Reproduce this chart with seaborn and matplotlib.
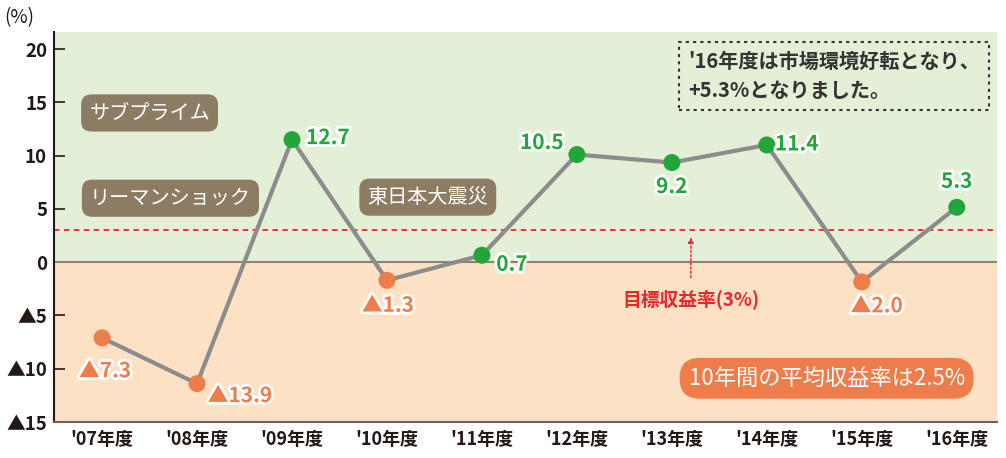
"""Pension fund annual return chart ('07-'16) with target and 10-year average."""

import matplotlib.pyplot as plt
import matplotlib.patheffects as pe
import pandas as pd
import seaborn as sns

years = ["'07年度", "'08年度", "'09年度", "'10年度", "'11年度",
         "'12年度", "'13年度", "'14年度", "'15年度", "'16年度"]
# plotted positions
returns = [-7.1, -11.4, 11.5, -1.7, 0.65, 10.1, 9.35, 11.0, -1.85, 5.15]
value_labels = ["▲7.3", "▲13.9", "12.7", "▲1.3", "0.7",
                "10.5", "9.2", "11.4", "▲2.0", "5.3"]
yticks = [-15, -10, -5, 0, 5, 10, 15, 20]
ytick_labels = ["▲15", "▲10", "▲5", "0", "5", "10", "15", "20"]
target = 3

GREEN = "#22a63a"
ORANGE = "#ef7d4b"
BROWN = "#8d7c64"
INK = "#231815"

sns.set_theme(style="white")
plt.rcParams["font.family"] = ["Noto Sans CJK JP", "DejaVu Sans"]

df = pd.DataFrame({"x": range(len(years)), "ret": returns})
df["sign"] = ["pos" if v >= 0 else "neg" for v in returns]

fig = plt.figure(figsize=(10.06, 4.58), dpi=100)
ax = fig.add_axes([0.0537, 0.0786, 0.937, 0.8515])
ax.set_xlim(-0.506, 9.42)
ax.set_ylim(-15, 21.6)

ax.axhspan(0, 21.6, color="#e3efd6", zorder=0)
ax.axhspan(-15, 0, color="#fde1c4", zorder=0)
ax.axhline(0, color="#8a8478", lw=1.5, zorder=1)
ax.axhline(target, color="#e8262d", lw=1.3, ls=(0, (3, 2.5)), zorder=1)

sns.lineplot(data=df, x="x", y="ret", color="#8c8c8c", lw=3, ax=ax,
             zorder=2, legend=False)
sns.scatterplot(data=df, x="x", y="ret", hue="sign",
                palette={"pos": GREEN, "neg": ORANGE}, s=150,
                edgecolor="none", ax=ax, zorder=3, legend=False)

offsets = [(3, -33), (43, -12), (36, 2), (1, -25), (30, -9),
           (-35, 12), (0, -24), (30, 1), (15, -24), (0, 26)]
stroke = [pe.withStroke(linewidth=4, foreground="white")]
for i, (v, lab) in enumerate(zip(returns, value_labels)):
    ax.annotate(lab, (i, v), xytext=offsets[i], textcoords="offset pixels",
                ha="center", va="center", fontsize=15, fontweight="bold",
                color=GREEN if v >= 0 else ORANGE, path_effects=stroke,
                zorder=5)

# event labels
for txt, (x, y) in [("サブプライム", (0.5, 14)),
                    ("リーマンショック", (0.72, 6.0)),
                    ("東日本大震災", (3.43, 6.1))]:
    ax.text(x, y, txt, ha="center", va="center", fontsize=14.5, color="white",
            bbox=dict(boxstyle="round,pad=0.4,rounding_size=0.5",
                      fc=BROWN, ec="none"), zorder=4)

ax.text(6.17, 17.5, "'16年度は市場環境好転となり、\n+5.3%となりました。",
        ha="left", va="center", fontsize=14.5, color="#333333",
        fontweight="bold", linespacing=1.45,
        bbox=dict(boxstyle="square,pad=0.45", fc="none", ec="#333333",
                  lw=1.5, ls=(0, (1.5, 2))), zorder=4)

ax.annotate("", xy=(6.2, 2.6), xytext=(6.2, -1.7),
            arrowprops=dict(arrowstyle="-|>", color="#e8262d", lw=1,
                            ls=(0, (1.5, 1.5)), mutation_scale=8), zorder=4)
ax.text(6.2, -3.5, "目標収益率(3%)", ha="center", va="center", fontsize=13.5,
        color="#e8262d", fontweight="bold", zorder=4)

ax.text(7.63, -10.9, "10年間の平均収益率は2.5%", ha="center", va="center",
        fontsize=16, color="white",
        bbox=dict(boxstyle="round,pad=0.4,rounding_size=0.9",
                  fc=ORANGE, ec="none"), zorder=4)

ax.set_yticks(yticks)
ax.set_yticklabels(ytick_labels, fontsize=13.5, fontweight="bold", color=INK)
ax.set_xticks(range(len(years)))
ax.set_xticklabels(years, fontsize=13, fontweight="bold", color=INK)
ax.tick_params(axis="y", direction="in", length=8, width=1.2,
               color=INK, left=True, pad=5)
ax.tick_params(axis="x", length=0, pad=6)
ax.set_xlabel("")
ax.set_ylabel("")
for side in ["top", "right"]:
    ax.spines[side].set_visible(False)
ax.spines["left"].set_color(INK)
ax.spines["left"].set_linewidth(1.5)
ax.spines["bottom"].set_color("#6b6258")
ax.spines["bottom"].set_linewidth(1.5)

fig.text(0.004, 0.985, "(%)", ha="left", va="top", fontsize=13.5, color=INK)

fig.savefig("out.png", dpi=100)
